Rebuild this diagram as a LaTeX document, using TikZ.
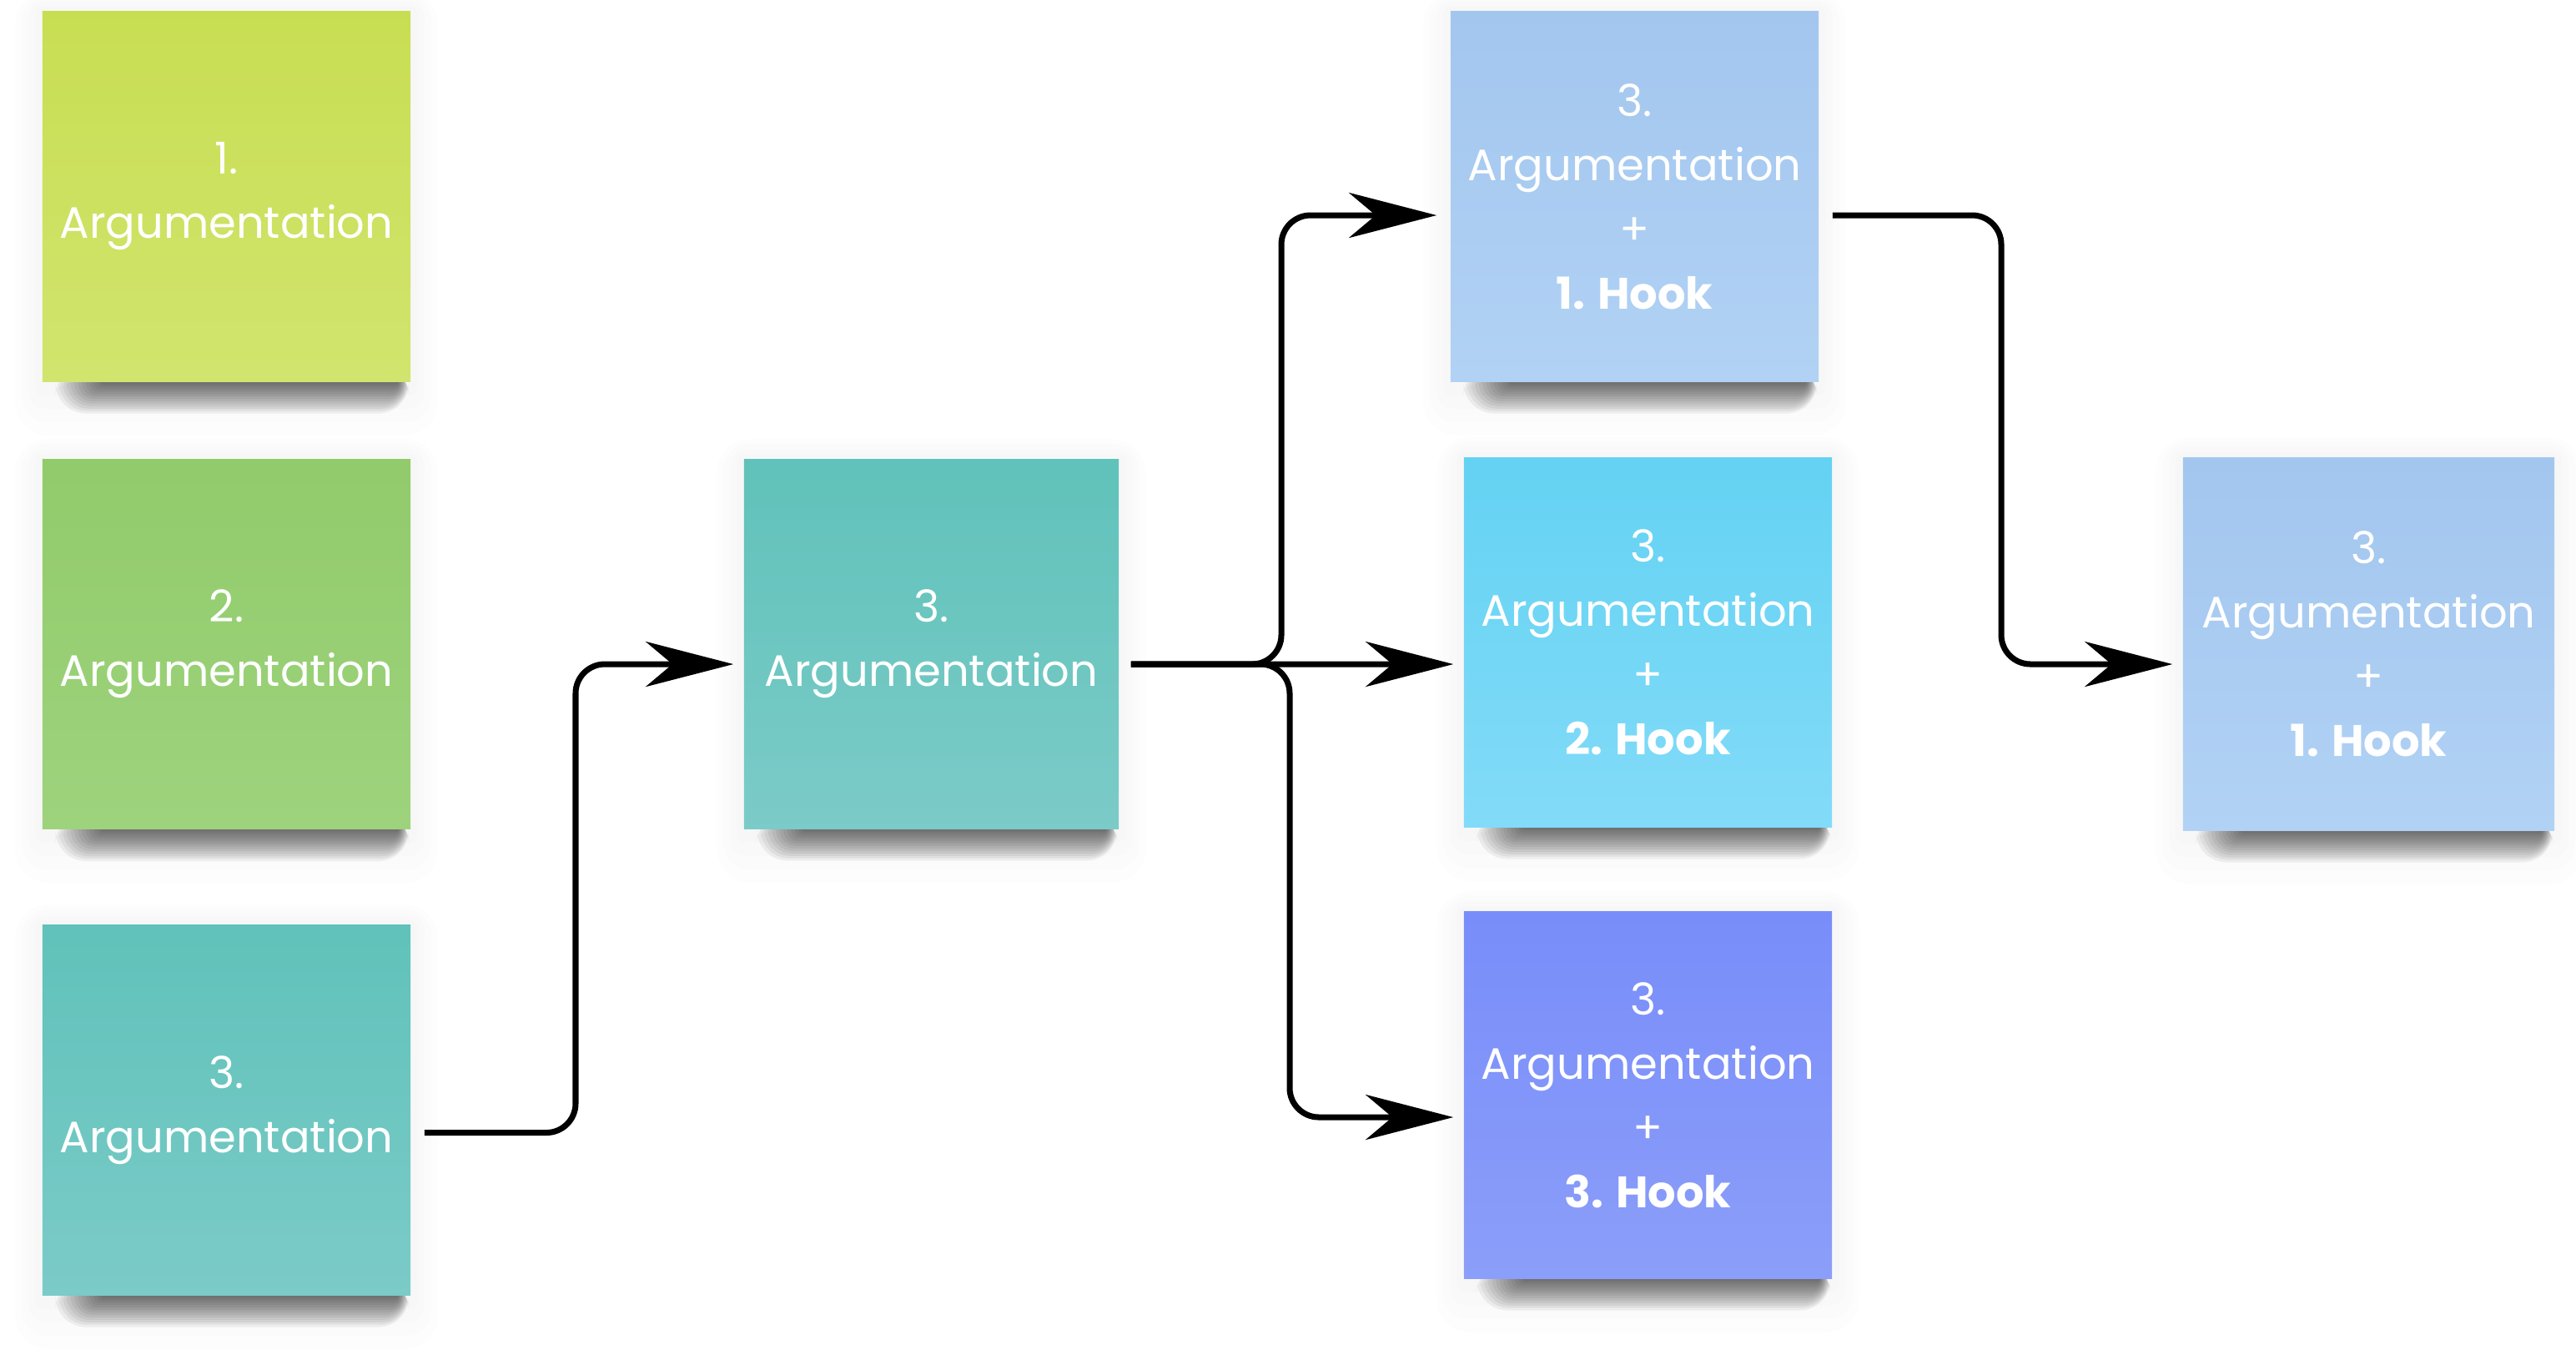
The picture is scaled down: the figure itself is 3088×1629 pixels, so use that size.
\documentclass[tikz,border=0pt]{standalone}
\usepackage{fontspec}
\setmainfont{Poppins}
\usetikzlibrary{arrows.meta,backgrounds}
\definecolor{limeT}{HTML}{C8DE52}
\definecolor{limeB}{HTML}{D1E46E}
\definecolor{greenT}{HTML}{91CB6B}
\definecolor{greenB}{HTML}{9ED37D}
\definecolor{tealT}{HTML}{60C2BA}
\definecolor{tealB}{HTML}{7BCBC8}
\definecolor{lblueT}{HTML}{A3C6EF}
\definecolor{lblueB}{HTML}{B1D2F4}
\definecolor{cyanT}{HTML}{64D2F3}
\definecolor{cyanB}{HTML}{82DBF8}
\definecolor{indigoT}{HTML}{798DFA}
\definecolor{indigoB}{HTML}{8B9EF9}
\tikzset{
  note/.style={rectangle, inner sep=0pt, align=center, text=white,
    minimum width=4.41cm, minimum height=4.43cm,
    font=\fontsize{15}{21.9}\selectfont},
  conn/.style={line width=2pt, rounded corners=0.35cm,
    -{Stealth[length=1.05cm,width=0.54cm,inset=0.32cm]}},
  shadowlayer/.style={black, opacity=0.055},
  halo/.style={black, opacity=0.007}
}
\newcommand\notesh[1]{%
  \foreach \h in {1,...,4}{%
    \fill[halo, rounded corners={\h*0.1cm}] ([xshift={-\h*0.08cm},yshift={\h*0.06cm}]#1.north west) rectangle ([xshift={\h*0.08cm},yshift={-\h*0.16cm}]#1.south east);}
  \foreach \k in {1,...,13}{%
    \fill[shadowlayer, rounded corners=\k*0.028cm]
      ([xshift={(75-4.5*\k)*0.01cm}, yshift=0.2cm]#1.south west) rectangle
      ([xshift={-(16-\k)*0.01cm}, yshift={-2.9*\k*0.01cm}]#1.south east);}}
\begin{document}
\begin{tikzpicture}[x=0.01cm,y=-0.01cm]
\useasboundingbox (0,0) rectangle (3088,1629);

\node[note, top color=limeT, bottom color=limeB] (b1) at (271.5,235.5) {1.\\Argumentation};
\node[note, top color=greenT, bottom color=greenB] (b2) at (271.5,772) {2.\\Argumentation};
\node[note, top color=tealT, bottom color=tealB] (b3) at (271.5,1330.5) {3.\\Argumentation};
\node[note, top color=tealT, bottom color=tealB, minimum width=4.49cm, minimum height=4.42cm] (m) at (1116.5,772) {3.\\Argumentation};
\node[note, top color=lblueT, bottom color=lblueB] (h1) at (1959.5,235.5) {3.\\Argumentation\\+\\\textbf{1. Hook}};
\node[note, top color=cyanT, bottom color=cyanB, minimum height=4.42cm] (h2) at (1975.5,770) {3.\\Argumentation\\+\\\textbf{2. Hook}};
\node[note, top color=indigoT, bottom color=indigoB, minimum height=4.39cm] (h3) at (1975.5,1312.5) {3.\\Argumentation\\+\\\textbf{3. Hook}};
\node[note, top color=lblueT, bottom color=lblueB, minimum width=4.45cm, minimum height=4.46cm] (f) at (2839.5,772) {3.\\Argumentation\\+\\\textbf{1. Hook}};

\begin{scope}[on background layer]
\fill[white] (0,0) rectangle (3088,1629);
\notesh{b1}\notesh{b2}\notesh{b3}\notesh{m}\notesh{h1}\notesh{h2}\notesh{h3}\notesh{f}
\end{scope}

\draw[conn] ([xshift=0.16cm,yshift=-0.27cm]b3.east) -| (690,796) -- ([xshift=-0.12cm,yshift=-0.24cm]m.west);
\draw[conn] ([xshift=0.14cm,yshift=-0.24cm]m.east) -| (1536,258) -- ([xshift=-0.16cm,yshift=-0.225cm]h1.west);
\draw[conn] ([xshift=0.14cm,yshift=-0.24cm]m.east) -- ([xshift=-0.12cm,yshift=-0.26cm]h2.west);
\draw[conn] ([xshift=0.14cm,yshift=-0.24cm]m.east) -| (1546,1339) -- ([xshift=-0.12cm,yshift=-0.265cm]h3.west);
\draw[conn] ([xshift=0.16cm,yshift=-0.225cm]h1.east) -| (2399,796) -- ([xshift=-0.12cm,yshift=-0.24cm]f.west);
\end{tikzpicture}
\end{document}
